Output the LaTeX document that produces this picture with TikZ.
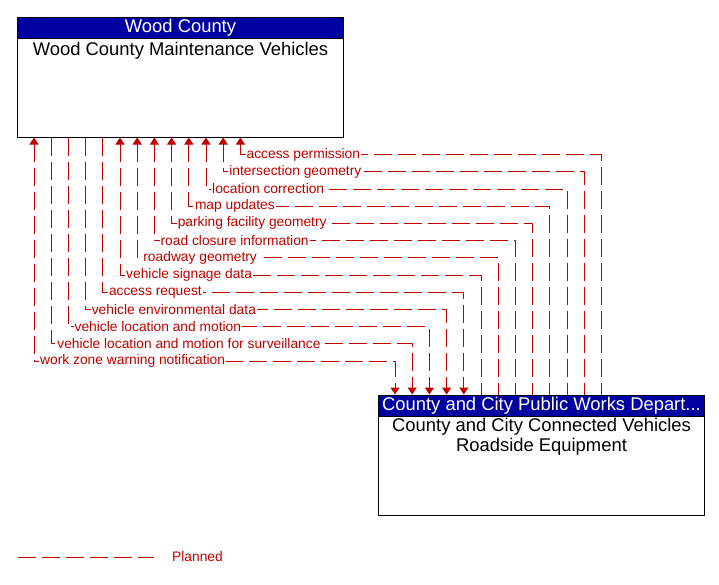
\documentclass[tikz,border=0pt]{standalone}
\usepackage{fontspec}
\setmainfont{Liberation Sans}
\usetikzlibrary{arrows.meta,positioning}
\definecolor{flowred}{RGB}{192,0,0}
\definecolor{hdrblue}{RGB}{0,0,160}
\begin{document}
\begin{tikzpicture}[x=1pt, y=-1pt, line join=round, >={Triangle[width=9pt,length=7pt]}]
	\def\dx{17.2}
	\tikzset{
		box/.style={draw=black, line width=1pt, fill=white, minimum width=326pt, minimum height=120pt, inner sep=0pt},
		hdr/.style={draw=black, line width=1pt, fill=hdrblue, text=white, minimum width=326pt, minimum height=21pt, inner sep=0pt, anchor=north, font=\fontsize{18.4}{20}\selectfont},
		boxtxt/.style={align=center, inner sep=0pt, font=\fontsize{18.4}{20}\selectfont},
		flow/.style={draw=flowred, line width=1pt, dash pattern=on 18pt off 6pt},
		tipup/.style={<-}, tipdown/.style={->}, tipboth/.style={<->},
		flowlbl/.style={anchor=west, fill=white, text=flowred, inner sep=1pt, font=\fontsize{13.8}{16}\selectfont}
	}
	\useasboundingbox (0,0) rectangle (719,584);
	% the two elements
	\node[box] (wcmv) at (180.5,77) {};
	\node[hdr] (wchead) at (wcmv.north) {Wood County};
	\node[boxtxt] (wcname) at ([yshift=-12pt]wchead.south) {Wood County Maintenance Vehicles};
	\node[box] (ccrse) at (541.5,455) {};
	\node[hdr] (cchead) at (ccrse.north) {County and City Public Works Depart...};
	\node[boxtxt] (ccname) at ([yshift=-20.5pt]cchead.south) {County and City Connected Vehicles\\Roadside Equipment};
	% flows
	\foreach \i/\tip/\txt in {0/tipboth/work zone warning notification, 1/tipdown/vehicle location and motion for surveillance,
			2/tipdown/vehicle location and motion, 3/tipdown/vehicle environmental data, 4/tipdown/access request,
			5/tipup/vehicle signage data, 6/tipup/roadway geometry, 7/tipup/road closure information,
			8/tipup/parking facility geometry, 9/tipup/map updates, 10/tipup/location correction,
			11/tipup/intersection geometry, 12/tipup/access permission}{
		\pgfmathsetmacro\tx{34+\dx*\i}
		\pgfmathsetmacro\bx{395+\dx*\i}
		\pgfmathsetmacro\ly{361-\dx*\i}
		\draw[flow, \tip] (\tx,0 |- wcmv.south) -- (\tx,\ly) -- (\bx,\ly) -- (\bx,0 |- ccrse.north);
		\node[flowlbl] (f\i) at (\tx+5,\ly) {\txt};
	}
	% legend
	\coordinate (lgA) at (18,557);
	\coordinate (lgB) at (154,557);
	\draw[flow] (lgA) -- (lgB);
	\node[flowlbl, fill=none] (plan) at (171,557) {Planned};
\end{tikzpicture}
\end{document}
